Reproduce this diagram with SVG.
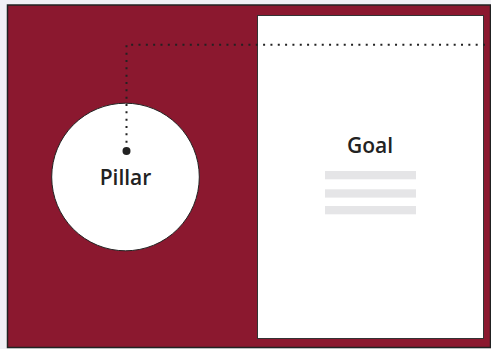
<svg xmlns="http://www.w3.org/2000/svg" width="491" height="349" viewBox="0 0 491 349">
<style>
.lbl{font-family:"Open Sans","Liberation Sans",sans-serif;font-weight:600;fill:#222;text-anchor:middle}
.dots{fill:none;stroke:#222;stroke-width:2;stroke-dasharray:2 5.33}
.bar{fill:#e5e5e7}
</style>
<rect x="0" y="0" width="491" height="349" fill="#f1f0f5"/>
<g id="frame"><rect x="7.5" y="5" width="483" height="342.5" fill="#8b182f" stroke="#222" stroke-width="1.5"/></g>
<g id="goal">
<rect x="257.5" y="15.5" width="226" height="323" fill="#fff" stroke="#333" stroke-width="1"/>
<text class="lbl" x="370" y="153" font-size="21">Goal</text>
<rect class="bar" x="325" y="171" width="91" height="8.3"/>
<rect class="bar" x="325" y="189.3" width="91" height="8.3"/>
<rect class="bar" x="325" y="206" width="91" height="8.3"/>
</g>
<g id="pillar">
<circle cx="125.5" cy="177" r="73.8" fill="#fff" stroke="#222" stroke-width="1"/>
<text class="lbl" x="125.5" y="185" font-size="21">Pillar</text>
</g>
<g id="connectors">
<path class="dots" d="M485 44.7H126.5V150"/>
<circle cx="126.5" cy="151" r="4" fill="#222"/>
</g>
</svg>
